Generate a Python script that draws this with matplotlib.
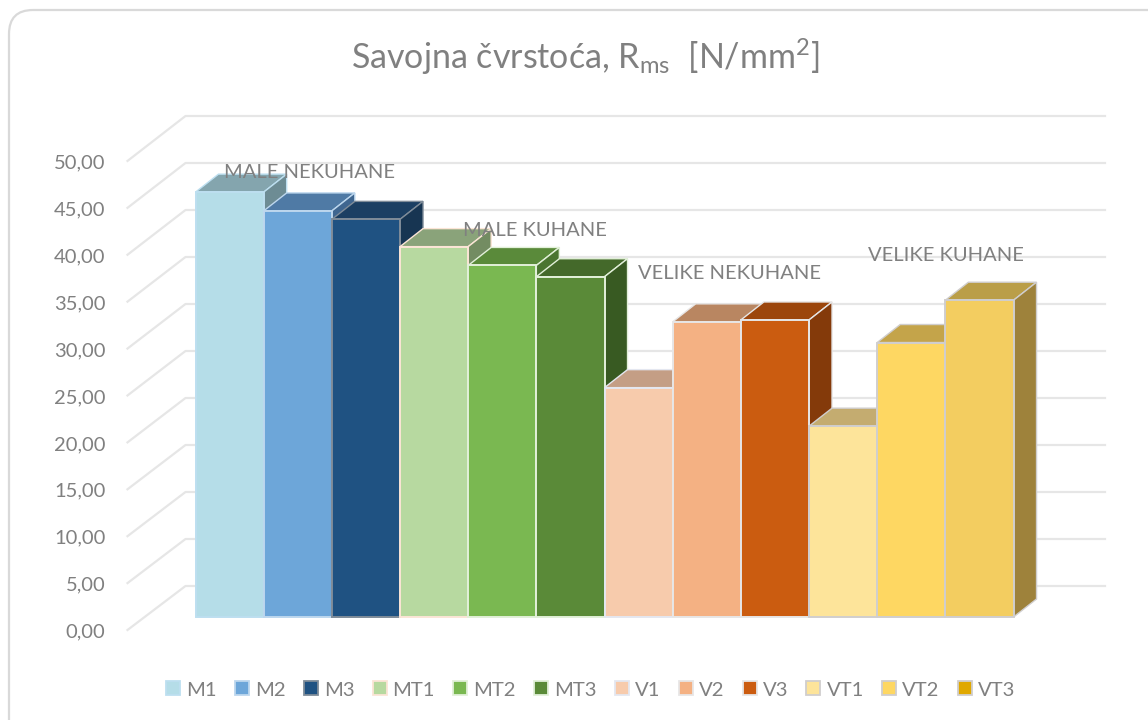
import matplotlib
matplotlib.use("Agg")
import matplotlib.pyplot as plt
from matplotlib.patches import FancyBboxPatch, Patch, Polygon
from matplotlib.transforms import Affine2D
import numpy as np

plt.rcParams['font.family'] = ['Lato', 'DejaVu Sans']
plt.rcParams['mathtext.default'] = 'regular'

labels = ["M1", "M2", "M3", "MT1", "MT2", "MT3", "V1", "V2", "V3", "VT1", "VT2", "VT3"]
values = [45.2, 43.2, 42.3, 39.4, 37.4, 36.2, 24.4, 31.4, 31.6, 20.3, 29.2, 33.7]
ticks = [0, 5, 10, 15, 20, 25, 30, 35, 40, 45, 50]
group_names = ["MALE NEKUHANE", "MALE KUHANE", "VELIKE NEKUHANE", "VELIKE KUHANE"]

front_colors = ["#B5DDE8", "#6DA6D9", "#1F5282", "#B7D9A0", "#7AB851", "#5A8A38",
                "#F7CBAC", "#F4B183", "#CB5C10", "#FDE49A", "#FED762", "#F3CD60"]
top_colors = ["#84A5AE", "#4F7AA5", "#1B3F63", "#8AA37A", "#5A8A3A", "#44692A",
              "#C49E85", "#B98661", "#9C460C", "#C4AC70", "#C4A44A", "#BA9E48"]
side_colors = ["#6D8C94", "#3F6690", "#173552", "#738C62", "#4A7530", "#385A22",
               "#A88670", "#9C7050", "#843A0A", "#A89060", "#A88C3C", "#9E823B"]
edge_colors = ["#BDDFF0", "#BDD7EE", "#7F8C99", "#FBE5D6", "#E2F0D9", "#E2F0D9",
               "#E4E7F0", "#E7E6E6", "#E7E6E6", "#D0CECE", "#D0CECE", "#D0CECE"]
legend_colors = front_colors[:-1] + ["#E0A800"]

gray = "#808080"
grid_col = "#E6E6E6"

# 1 unit on x = one bar, 1 unit on y = 1 N/mm2
bar_w = 68.17
unit_h = 9.4
x0_px = 195.5
y0_px = 617

fig = plt.figure(figsize=(11.48, 7.2), dpi=100)
ax = fig.add_axes([0, 0, 1, 1])
ax.set_xlim(-x0_px / bar_w, (1148 - x0_px) / bar_w)
ax.set_ylim((y0_px - 720) / unit_h, y0_px / unit_h)
ax.axis("off")

# pixel coords for the frame and the free text
px = Affine2D().scale(1, -1).translate(0, 720)

frame = FancyBboxPatch((33, 34), 1140, 700, boxstyle="round,pad=24,rounding_size=24",
                       fc="white", ec="#D9D9D9", lw=1.6, transform=px, clip_on=False)
ax.add_patch(frame)

# walls of the 3d box
dep_front = (-68 / bar_w, -13 / unit_h)   # front end of the floor lines
dep_back = (-10 / bar_w, 31 / unit_h)     # where the back wall starts
right_end = (1105 - x0_px) / bar_w
for t in ticks:
    ax.plot([dep_front[0], dep_back[0], right_end],
            [t * 0.998 + dep_front[1], t + dep_back[1], t + dep_back[1]],
            color=grid_col, lw=1.6, solid_joinstyle="round", zorder=1)
    ax.text(-90 / bar_w, t * 0.998 + dep_front[1] - 2 / unit_h, f"{t},00", ha="right", va="center",
            fontsize=14.5, color=gray, zorder=5)

# bars, left to right so that each one covers the one before
dx = 23 / bar_w
dy = 18 / unit_h
xs = np.arange(len(values))
for i in xs:
    v = values[i]
    z = 2 + i * 0.01
    ax.add_patch(Polygon([(i, v), (i + 1, v), (i + 1 + dx, v + dy), (i + dx, v + dy)],
                         fc=top_colors[i], ec=edge_colors[i], lw=1.0, zorder=z))
    ax.add_patch(Polygon([(i + 1, 0), (i + 1 + dx, dy), (i + 1 + dx, v + dy), (i + 1, v)],
                         fc=side_colors[i], ec=edge_colors[i], lw=1.0, zorder=z))
    ax.bar(i, v, width=1, align="edge", color=front_colors[i], edgecolor=edge_colors[i],
           linewidth=1.4, zorder=z + 0.001)

# group captions
ax.text(309.5, 172.5, group_names[0], transform=px, ha="center", va="center", fontsize=14.5, color=gray, zorder=6)
ax.text(534.5, 230.5, group_names[1], transform=px, ha="center", va="center", fontsize=14.5, color=gray, zorder=6)
ax.text(729.5, 273.5, group_names[2], transform=px, ha="center", va="center", fontsize=14.5, color=gray, zorder=6)
ax.text(945.5, 255.5, group_names[3], transform=px, ha="center", va="center", fontsize=14.5, color=gray, zorder=6)

ax.text(585, 57, "Savojna čvrstoća, R$_{ms}$  [N/mm$^{2}$]", transform=px, ha="center", va="center",
        fontsize=24.5, color=gray, zorder=6)

handles = [Patch(fc=legend_colors[i], ec=edge_colors[i], lw=1.3, label=labels[i]) for i in range(len(labels))]
ax.legend(handles=handles, ncol=12, frameon=False, loc="center", bbox_to_anchor=(590.5, 690),
          bbox_transform=px, fontsize=14.6, labelcolor=gray, handlelength=0.69, handleheight=0.69,
          handletextpad=0.3, columnspacing=0.9, borderpad=0, borderaxespad=0)

fig.savefig("out.png", dpi=100)
